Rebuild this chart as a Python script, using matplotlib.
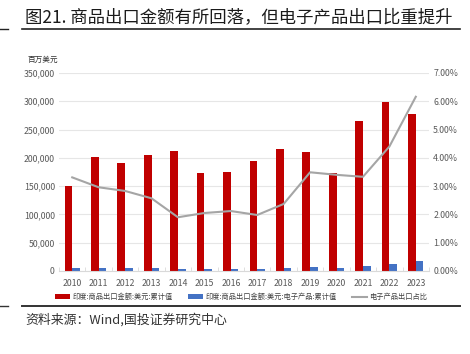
import matplotlib.pyplot as plt
import numpy as np
from matplotlib.ticker import FuncFormatter

plt.rcParams['font.family'] = ['Noto Sans CJK SC', 'DejaVu Sans']

years = [str(y) for y in range(2010, 2024)]
total_export = [150000, 201000, 191000, 205000, 213000, 173500, 175000,
                194000, 216000, 210500, 173800, 265500, 298000, 278000]
elec_export = [5000, 6000, 5400, 5300, 4100, 3600, 3700,
               3900, 5100, 7300, 5900, 8800, 13100, 17100]
elec_share = [3.31, 2.96, 2.83, 2.57, 1.90, 2.05, 2.12,
              1.98, 2.37, 3.49, 3.40, 3.33, 4.40, 6.16]

W, H = 470, 354
fig = plt.figure(figsize=(W / 100, H / 100), dpi=100)

# title + rules
fig.text(25 / W, 1 - 17 / H, '图21. 商品出口金额有所回落，但电子产品出口比重提升',
         fontsize=12.5, fontweight='medium', color='#1a1a1a', va='center', ha='left')
fig.add_artist(plt.Line2D([22 / W, 460 / W], [1 - 29 / H] * 2, color='#222222', lw=1.2))
fig.add_artist(plt.Line2D([0, 8 / W], [1 - 29 / H] * 2, color='#222222', lw=1.0))
fig.add_artist(plt.Line2D([22 / W, 460 / W], [1 - 306 / H] * 2, color='#333333', lw=1.4))
fig.add_artist(plt.Line2D([0, 8 / W], [1 - 306 / H] * 2, color='#333333', lw=1.0))
fig.text(25 / W, 1 - 320 / H, '资料来源：Wind,国投证券研究中心',
         fontsize=9.3, color='#333333', va='center', ha='left')
fig.text(28 / W, 1 - 60 / H, '百万美元', fontsize=5.5, color='#333333',
         va='center', ha='left')

ax = fig.add_axes([59 / W, 1 - 271 / H, (429 - 59) / W, (271 - 73) / H])
x = np.arange(len(years))
bw = 0.29
b1 = ax.bar(x - bw / 2, total_export, bw, color='#C00000',
            label='印度:商品出口金额:美元:累计值')
b2 = ax.bar(x + bw / 2, elec_export, bw, color='#4472C4',
            label='印度:商品出口金额:美元:电子产品:累计值')
ax.set_ylim(0, 350000)
ax.set_xlim(-0.5, len(years) - 0.5)
ax.set_yticks(np.arange(0, 350001, 50000))
ax.yaxis.set_major_formatter(FuncFormatter(lambda v, p: f'{int(v):,}'))
ax.set_xticks(x)
ax.set_xticklabels(years)
ax.set_xticks(np.arange(-0.5, len(years), 1), minor=True)
ax.tick_params(axis='x', which='major', length=0, labelsize=6.3, colors='#595959', pad=6)
ax.tick_params(axis='x', which='minor', length=3, color='#d9d9d9', direction='in')
ax.tick_params(axis='y', length=0, labelsize=6.3, colors='#595959', pad=3)
ax.grid(axis='y', color='#e6e6e6', lw=0.8)
ax.set_axisbelow(True)
for s in ['top', 'right', 'left']:
    ax.spines[s].set_visible(False)
ax.spines['bottom'].set_color('#d9d9d9')

ax2 = ax.twinx()
l1, = ax2.plot(x, elec_share, color='#A5A5A5', lw=1.5, label='电子产品出口占比')
ax2.set_ylim(0, 7)
ax2.set_yticks(np.arange(0, 7.01, 1))
ax2.yaxis.set_major_formatter(FuncFormatter(lambda v, p: f'{v:.2f}%'))
ax2.tick_params(axis='y', length=0, labelsize=6.3, colors='#595959', pad=3)
for s in ['top', 'right', 'left', 'bottom']:
    ax2.spines[s].set_visible(False)

fig.legend([b1, b2, l1], [b1.get_label(), b2.get_label(), l1.get_label()],
           loc='center', bbox_to_anchor=(0.513, 1 - 297 / H), ncol=3, frameon=False,
           fontsize=5.2, handlelength=2.1, handleheight=0.6, columnspacing=2.1,
           handletextpad=0.3, labelcolor='#404040')

fig.savefig('out.png', dpi=100)
